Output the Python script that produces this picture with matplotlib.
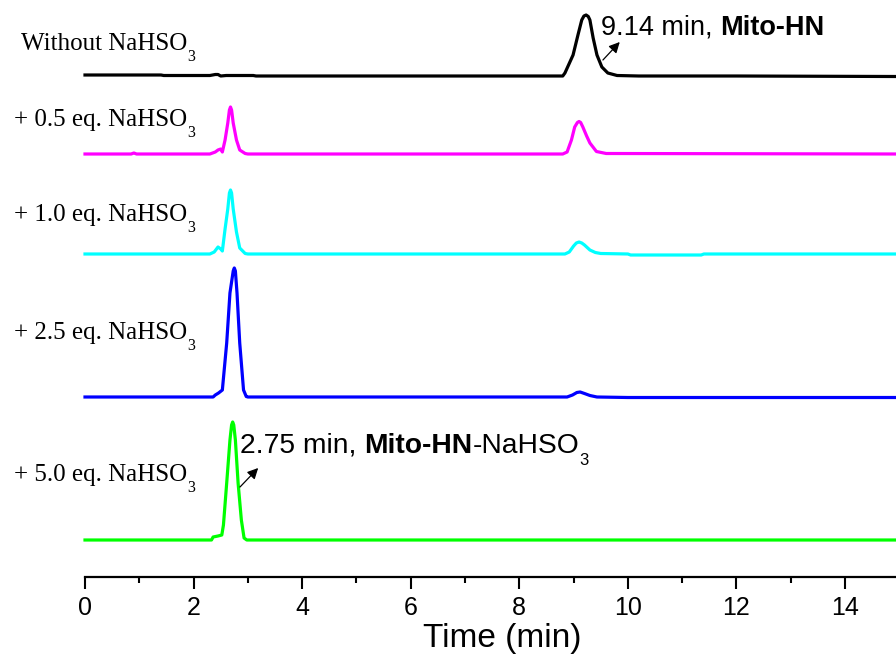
import matplotlib
matplotlib.use("Agg")
import matplotlib.pyplot as plt
from matplotlib.ticker import MultipleLocator

# ---------------- data ----------------
# each trace: retention times (min) and signal height above its own baseline
black_t = [0, 1.40, 1.45, 2.30, 2.40, 2.45, 2.50, 2.60, 3.10, 3.15, 8.80, 8.84, 8.99,
           9.08, 9.15, 9.19, 9.23, 9.27, 9.30, 9.36, 9.43, 9.52, 9.63, 9.80, 10.2, 12.0,
           14.9, 15.0]
black_h = [1, 1, 0.5, 0.5, 1.5, 1.5, 0, 0.5, 0.5, 0, 0, 3, 21,
           41, 56, 60, 61, 59.5, 56, 38, 21, 9, 3, 0.5, 0, 0,
           -0.5, -0.5]

magenta_t = [0, 0.85, 0.90, 0.95, 2.30, 2.40, 2.45, 2.50, 2.53, 2.58, 2.63, 2.66, 2.68,
             2.70, 2.73, 2.79, 2.85, 2.95, 3.00, 8.80, 8.88, 8.96, 9.02, 9.07, 9.10,
             9.13, 9.17, 9.24, 9.30, 9.42, 9.60, 15.0]
magenta_h = [0, 0, 1, 0, 0, 2, 4, 5, 2, 14, 31, 44, 47,
             44, 31, 14, 4, 0.5, 0, 0, 2, 14, 27, 31.5, 32.5,
             31.5, 27, 18, 11, 2.5, 0.5, 0]

cyan_t = [0, 2.30, 2.38, 2.45, 2.50, 2.53, 2.58, 2.63, 2.66, 2.68, 2.70, 2.73, 2.79,
          2.85, 2.95, 3.00, 8.84, 8.92, 9.00, 9.05, 9.10, 9.15, 9.20, 9.30, 9.40, 9.50,
          10.00, 10.05, 11.35, 11.40, 15.0]
cyan_h = [0, 0, 2, 7, 5, 3, 25, 45, 61, 64, 61, 45, 22,
          6, 0.5, 0, 0, 2, 8, 11, 12, 11, 9, 4, 1.5, 0.5,
          0, -1, -1, 0, 0]

blue_t = [0, 2.36, 2.40, 2.46, 2.53, 2.61, 2.67, 2.73, 2.75, 2.77, 2.80, 2.85, 2.92,
          2.97, 3.00, 8.88, 8.98, 9.06, 9.12, 9.20, 9.30, 9.43, 10.0, 15.0]
blue_h = [0, 0, 2, 4, 7, 54, 104, 126, 129, 126, 104, 54, 7,
          0.5, 0, 0, 2, 4.5, 5, 3.5, 1.5, 0, -0.5, -0.5]

green_t = [0, 2.33, 2.36, 2.45, 2.52, 2.55, 2.61, 2.67, 2.70, 2.72, 2.74, 2.77, 2.82,
           2.88, 2.93, 2.98, 15.0]
green_h = [0, 0, 3, 4, 5, 15, 57, 100, 115, 118, 115, 100, 57,
           20, 2, 0, 0]

labels = ["Without NaHSO", "+ 0.5 eq. NaHSO", "+ 1.0 eq. NaHSO",
          "+ 2.5 eq. NaHSO", "+ 5.0 eq. NaHSO"]
label_sub = "3"
peak1_text = ["9.14 min, ", "Mito-HN"]
peak2_text = ["2.75 min, ", "Mito-HN", "-NaHSO", "3"]
x_ticks = [0, 2, 4, 6, 8, 10, 12, 14]
x_label = "Time (min)"

# ---------------- layout ----------------
W, H = 896, 658
fig = plt.figure(figsize=(W / 100, H / 100), dpi=100)
px_per_min = 54.29
x0_px, axis_px = 85, 577
ax = fig.add_axes([x0_px / W, (H - axis_px) / H, 15 * px_per_min / W, axis_px / H])
ax.set_xlim(0, 15)
ax.set_ylim(0, axis_px)

traces = [
    (black_t, black_h, 501, "#000000"),
    (magenta_t, magenta_h, 423, "#FF00FF"),
    (cyan_t, cyan_h, 323, "#00FFFF"),
    (blue_t, blue_h, 180, "#0000FF"),
    (green_t, green_h, 37, "#00FF00"),
]
for t, h, off, c in traces:
    ax.plot(t, [v + off for v in h], color=c, lw=2.3, solid_joinstyle="round",
            clip_on=False)

for s in ["top", "right", "left"]:
    ax.spines[s].set_visible(False)
ax.spines["bottom"].set_linewidth(1.6)
ax.set_yticks([])
ax.xaxis.set_major_locator(MultipleLocator(2))
ax.xaxis.set_minor_locator(MultipleLocator(1))
ax.set_xticks(x_ticks)
ax.tick_params(axis="x", which="major", direction="out", length=8.6, width=1.5,
               pad=5, labelsize=18)
ax.tick_params(axis="x", which="minor", direction="out", length=4.3, width=1.5)
for lab in ax.get_xticklabels():
    lab.set_family("Liberation Sans")

ax.set_xlabel(x_label, fontsize=24, family="Liberation Sans")
ax.xaxis.set_label_coords((502 - x0_px) / (15 * px_per_min), -(647 - axis_px) / axis_px)
ax.xaxis.label.set_va("baseline")

# ---------------- text helpers ----------------
fig.canvas.draw()
renderer = fig.canvas.get_renderer()


def text_width(s, size, family, weight):
    t1 = fig.text(0, 0, "X" + s + "X", fontsize=size, family=family, fontweight=weight)
    t2 = fig.text(0, 0, "XX", fontsize=size, family=family, fontweight=weight)
    w = t1.get_window_extent(renderer).width - t2.get_window_extent(renderer).width
    t1.remove()
    t2.remove()
    return w


def draw_runs(x, y, runs, family):
    """runs: (string, size, weight, baseline shift in px)."""
    cx = x
    for s, size, weight, dy in runs:
        fig.text(cx / W, 1 - (y + dy) / H, s, fontsize=size, family=family,
                 fontweight=weight, ha="left", va="baseline")
        cx += text_width(s, size, family, weight)


serif = "Liberation Serif"
sans = "Liberation Sans"
label_pos = [(21, 50), (14, 126), (14, 221), (14, 339), (14, 481)]
for lab, (lx, ly) in zip(labels, label_pos):
    draw_runs(lx, ly, [(lab, 18, "normal", 0), (label_sub, 11.5, "normal", 11)], serif)

draw_runs(601, 35, [(peak1_text[0], 19.5, "normal", 0),
                    (peak1_text[1], 19.5, "bold", 0)], sans)
draw_runs(240, 453, [(peak2_text[0], 20.3, "normal", 0),
                     (peak2_text[1], 20.3, "bold", 0),
                     (peak2_text[2], 20.3, "normal", 0),
                     (peak2_text[3], 12, "normal", 12)], sans)

arrow = dict(arrowstyle="-|>", lw=0.9, color="black", mutation_scale=16,
             shrinkA=0, shrinkB=0)
ax.annotate("", xy=(9.85, 535), xytext=(9.54, 517), arrowprops=arrow,
            annotation_clip=False)
ax.annotate("", xy=(3.19, 109), xytext=(2.855, 90), arrowprops=arrow,
            annotation_clip=False)

fig.savefig("out.png", dpi=100)
